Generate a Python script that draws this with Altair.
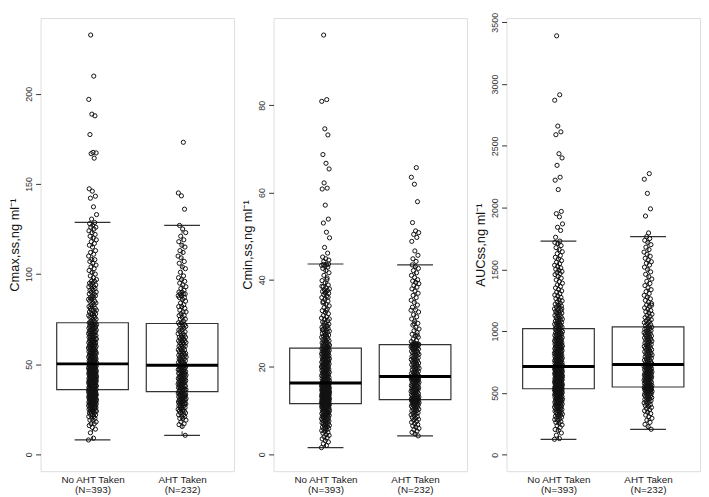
import json
import altair as alt
import pandas as pd

# ---------------- data ----------------
groups = ["No AHT Taken", "AHT Taken"]
group_n = [393, 232]
panel_titles = ["Cmax,ss,ng ml\u207b\u00b9", "Cmin,ss,ng ml\u207b\u00b9", "AUCss,ng ml\u207b\u00b9"]
y_ticks = [
    [0, 50, 100, 150, 200],
    [0, 20, 40, 60, 80],
    [0, 500, 1000, 1500, 2000, 2500, 3000, 3500],
]
y_domains = [[-9.3, 242], [-3.9, 100], [-133, 3534]]

# box statistics per panel, [No AHT, AHT]
box_q1 = [[35.9, 34.8], [11.6, 12.5], [534, 548]]
box_med = [[50.2, 49.5], [16.3, 17.8], [714, 730]]
box_q3 = [[73.0, 72.6], [24.3, 25.1], [1020, 1035]]
box_lo = [[8.1, 10.6], [1.5, 4.2], [125, 206]]
box_hi = [[128.7, 127.0], [43.6, 43.4], [1729, 1765]]

cmax_no = [
    8, 9, 12, 14, 15, 16, 17, 17, 18, 19,
    19, 20, 20, 21, 21, 22, 22, 22, 23, 23,
    23, 24, 24, 24, 24, 25, 25, 25, 25, 26,
    26, 26, 26, 26, 27, 27, 27, 27, 27, 28,
    28, 28, 28, 28, 28, 29, 29, 29, 29, 29,
    29, 30, 30, 30, 30, 30, 30, 31, 31, 31,
    31, 31, 31, 31, 32, 32, 32, 32, 32, 32,
    32, 33, 33, 33, 33, 33, 33, 33, 34, 34,
    34, 34, 34, 34, 34, 35, 35, 35, 35, 35,
    35, 35, 35, 36, 36, 36, 36, 36,
    37, 37, 37, 37, 37, 37, 38, 38, 38, 38,
    38, 38, 38, 39, 39, 39, 39, 39, 39, 39,
    40, 40, 40, 40, 40, 40, 40, 40, 41, 41,
    41, 41, 41, 41, 41, 42, 42, 42, 42, 42,
    42, 42, 43, 43, 43, 43, 43, 43, 43, 44,
    44, 44, 44, 44, 44, 44, 45, 45, 45, 45,
    45, 45, 45, 45, 46, 46, 46, 46, 46, 46,
    46, 47, 47, 47, 47, 47, 47, 47, 48, 48,
    48, 48, 48, 48, 48, 49, 49, 49, 49, 49,
    49, 49, 50, 50, 50, 50, 50, 50,
    51, 51, 51, 51, 51, 52, 52, 52, 52, 52,
    53, 53, 53, 53, 53, 54, 54, 54, 54, 54,
    55, 55, 55, 55, 56, 56, 56, 56, 56, 57,
    57, 57, 57, 58, 58, 58, 58, 59, 59, 59,
    59, 60, 60, 60, 60, 60, 61, 61, 61, 61,
    62, 62, 62, 62, 63, 63, 63, 63, 64, 64,
    64, 64, 65, 65, 65, 65, 66, 66, 66, 66,
    67, 67, 67, 67, 68, 68, 68, 68, 69, 69,
    69, 69, 70, 70, 70, 70, 71, 71, 71, 71,
    72, 72, 72, 72, 73, 73, 73, 73,
    74, 74, 75, 75, 76, 76, 76, 77, 77, 78,
    78, 78, 79, 79, 80, 80, 80, 81, 81, 82,
    82, 83, 83, 84, 84, 85, 85, 86, 86, 87,
    87, 88, 88, 89, 89, 90, 90, 91, 91, 92,
    92, 93, 93, 94, 94, 95, 95, 96, 96, 97,
    98, 99, 100, 101, 102, 103, 104, 105, 106, 107,
    108, 108, 110, 111, 112, 113, 115, 116, 117, 118,
    119, 120, 121, 122, 123, 124, 125, 126, 126, 127,
    128, 128.6,
    130.5, 133, 137.3, 142.1, 143.2, 146, 147.3, 164.3, 166.8, 167.2,
    167.5, 177.4, 187.8, 188.7, 196.9, 209.8, 232.6,
]
cmax_aht = [
    10.6, 15.5, 16.5, 17, 18, 19, 20, 20, 21, 21,
    22, 22, 23, 23, 24, 24, 24, 25, 25, 25,
    26, 26, 26, 27, 27, 27, 28, 28, 28, 28,
    29, 29, 29, 29, 30, 30, 30, 30, 31, 31,
    31, 31, 32, 32, 32, 32, 33, 33, 33, 33,
    33, 34, 34, 34, 34, 34, 35, 35,
    35.5, 36.5, 36, 36, 36, 36, 37, 37, 37, 37,
    38, 38, 38, 38, 39, 39, 39, 39, 40, 40,
    40, 40, 41, 41, 41, 41, 42, 42, 42, 42,
    43, 43, 43, 43, 44, 44, 44, 44, 45, 45,
    45, 45, 46, 46, 46, 46, 47, 47, 47, 47,
    48, 48, 48, 48, 49, 49, 49, 49,
    50, 50, 50, 51, 51, 51, 52, 52, 52, 53,
    53, 53, 54, 54, 54, 55, 55, 55, 56, 56,
    56, 57, 57, 58, 58, 58, 59, 59, 60, 60,
    60, 61, 61, 62, 62, 62, 63, 63, 63, 64,
    64, 65, 65, 65, 66, 66, 67, 67, 68, 68,
    69, 69, 70, 70, 71, 71, 72, 72,
    73, 73, 74, 75, 75, 76, 77, 77, 78, 79,
    79, 80, 81, 82, 82, 83, 84, 85, 86, 87,
    87, 88, 88, 89, 89, 89, 90, 90, 91, 92,
    93, 94, 95, 96, 97, 98, 99, 101, 103, 104,
    106, 107, 109, 110, 112, 113, 115, 116, 118, 119,
    121, 123, 125, 127,
    136, 143.4, 145, 173.1,
]
cmin_no = [
    1.5, 2.0, 2.4, 2.8, 3.1, 3.5, 3.8, 4.0, 4.3, 4.5,
    4.8, 5.0, 5.2, 5.4, 5.6, 5.8, 5.9, 6.0, 6.2, 6.3,
    6.5, 6.6, 6.8, 6.9, 7.0, 7.1, 7.2, 7.4, 7.5, 7.6,
    7.7, 7.8, 7.9, 8.0, 8.1, 8.2, 8.3, 8.4, 8.5, 8.6,
    8.7, 8.8, 8.9, 9.0, 9.0, 9.1, 9.2, 9.3, 9.4, 9.5,
    9.5, 9.6, 9.7, 9.8, 9.9, 10.0, 10.0, 10.1, 10.2, 10.3,
    10.3, 10.4, 10.5, 10.5, 10.6, 10.7, 10.7, 10.8, 10.9, 10.9,
    11.0, 11.0, 11.1, 11.1, 11.2, 11.2, 11.3, 11.3, 11.4, 11.4,
    11.5, 11.5, 11.5, 11.6, 11.6, 11.6, 11.7, 11.7, 11.7, 11.8,
    11.8, 11.8, 11.9, 11.9, 12.0, 12.0, 12.0, 12.1,
    12.2, 12.2, 12.3, 12.3, 12.4, 12.4, 12.4, 12.5, 12.5, 12.6,
    12.6, 12.7, 12.7, 12.7, 12.8, 12.8, 12.9, 12.9, 13.0, 13.0,
    13.0, 13.1, 13.1, 13.2, 13.2, 13.3, 13.3, 13.3, 13.4, 13.4,
    13.5, 13.5, 13.6, 13.6, 13.6, 13.7, 13.7, 13.8, 13.8, 13.9,
    13.9, 14.0, 14.0, 14.0, 14.1, 14.1, 14.2, 14.2, 14.3, 14.3,
    14.4, 14.4, 14.4, 14.5, 14.5, 14.6, 14.6, 14.7, 14.7, 14.8,
    14.8, 14.9, 14.9, 15.0, 15.0, 15.0, 15.1, 15.1, 15.2, 15.2,
    15.3, 15.3, 15.4, 15.4, 15.5, 15.5, 15.5, 15.6, 15.6, 15.7,
    15.7, 15.8, 15.8, 15.9, 15.9, 16.0, 16.0, 16.0, 16.1, 16.1,
    16.2, 16.2, 16.3, 16.3, 16.3, 16.4, 16.4, 16.5,
    16.6, 16.7, 16.8, 16.9, 17.0, 17.0, 17.1, 17.2, 17.3, 17.4,
    17.5, 17.6, 17.7, 17.8, 17.9, 18.0, 18.0, 18.1, 18.2, 18.3,
    18.4, 18.5, 18.6, 18.7, 18.8, 18.9, 19.0, 19.0, 19.1, 19.2,
    19.3, 19.4, 19.5, 19.6, 19.7, 19.8, 19.9, 20.0, 20.0, 20.1,
    20.2, 20.3, 20.4, 20.5, 20.6, 20.7, 20.8, 20.9, 21.0, 21.0,
    21.1, 21.2, 21.3, 21.4, 21.5, 21.6, 21.7, 21.8, 21.9, 22.0,
    22.0, 22.1, 22.2, 22.3, 22.4, 22.5, 22.6, 22.7, 22.8, 22.9,
    23.0, 23.0, 23.1, 23.2, 23.3, 23.4, 23.5, 23.6, 23.7, 23.8,
    23.9, 24.0, 24.0, 24.1, 24.2, 24.3, 24.4, 24.5, 24.6, 24.7,
    24.8, 24.9, 25.0, 25.1, 25.2, 25.3, 25.4, 25.5,
    25.6, 25.8, 26.0, 26.1, 26.3, 26.5, 26.6, 26.8, 27.0, 27.1,
    27.3, 27.5, 27.7, 27.9, 28.0, 28.2, 28.4, 28.6, 28.8, 29.0,
    29.1, 29.3, 29.6, 29.8, 30.0, 30.3, 30.6, 30.9, 31.2, 31.5,
    31.8, 32.2, 32.5, 32.9, 33.3, 33.6, 34.0, 34.4, 34.7, 35.1,
    35.5, 35.9, 36.3, 36.6, 36.9, 37.1, 37.3, 37.5, 37.7, 37.9,
    38.1, 38.4, 38.8, 39.3, 39.8, 40.4, 41.0, 41.6, 42.1, 42.6,
    42.9, 43.1, 43.3, 43.4, 43.5, 43.6, 27.4, 28.5, 29.4, 30.1,
    31.0, 33.0, 35.0, 36.0, 37.0, 38.5, 40.0,
    44.2, 44.5, 44.8, 45.2, 46.1, 47.4, 49.6, 50.9, 53.0, 53.9,
    57.1, 60.8, 61.0, 62.2, 65.4, 66.7, 68.7, 73.2, 74.6, 80.9,
    81.3, 96.1,
]
cmin_aht = [
    4.2, 4.6, 5.0, 5.3, 5.6, 5.9, 6.2, 6.5, 6.8, 7.0,
    7.3, 7.5, 7.8, 8.0, 8.2, 8.4, 8.6, 8.8, 9.0, 9.2,
    9.4, 9.5, 9.7, 9.9, 10.0, 10.2, 10.3, 10.5, 10.6, 10.8,
    10.9, 11.0, 11.1, 11.2, 11.3, 11.4, 11.5, 11.6, 11.7, 11.8,
    11.9, 12.0, 12.0, 12.1, 12.2, 12.2, 12.3, 12.3, 12.4, 12.4,
    12.5, 12.5, 12.6, 12.6, 12.7, 12.7, 12.8, 12.8,
    12.9, 13.0, 13.1, 13.2, 13.3, 13.4, 13.5, 13.6, 13.7, 13.8,
    13.9, 14.0, 14.1, 14.2, 14.3, 14.4, 14.5, 14.6, 14.7, 14.8,
    14.9, 15.0, 15.1, 15.2, 15.3, 15.4, 15.5, 15.6, 15.7, 15.8,
    15.9, 16.0, 16.1, 16.2, 16.3, 16.4, 16.5, 16.6, 16.7, 16.8,
    16.9, 17.0, 17.0, 17.1, 17.2, 17.2, 17.3, 17.4, 17.4, 17.5,
    17.5, 17.6, 17.6, 17.7, 17.7, 17.8, 17.8, 17.9,
    18.0, 18.1, 18.3, 18.4, 18.5, 18.7, 18.8, 19.0, 19.1, 19.3,
    19.4, 19.6, 19.7, 19.9, 20.0, 20.2, 20.3, 20.5, 20.6, 20.8,
    20.9, 21.1, 21.2, 21.4, 21.5, 21.7, 21.8, 22.0, 22.1, 22.3,
    22.4, 22.6, 22.7, 22.9, 23.0, 23.2, 23.3, 23.5, 23.6, 23.8,
    23.9, 24.1, 24.2, 24.3, 24.4, 24.5, 24.6, 24.7, 24.8, 24.9,
    25.0, 25.0, 25.1, 25.1, 25.2, 25.2, 25.3, 25.3,
    25.5, 25.8, 26.1, 26.4, 26.8, 27.1, 27.5, 27.9, 28.3, 28.7,
    29.1, 29.6, 30.0, 30.5, 31.0, 31.5, 32.0, 32.6, 33.1, 33.7,
    34.2, 34.8, 35.3, 35.9, 36.4, 36.9, 37.4, 37.9, 38.3, 38.7,
    39.1, 39.4, 39.7, 40.0, 40.5, 41.0, 41.6, 42.1, 42.6, 43.0,
    43.4, 27.3, 29.9, 33.0,
    44.2, 44.8, 45.6, 46.6, 48.8, 49.7, 50.4, 50.8, 51.2, 53.1,
    57.9, 61.9, 63.5, 65.7,
]
auc_no = [
    125, 131, 158, 176, 197, 204, 221, 236, 241, 255,
    262, 268, 279, 284, 291, 297, 304, 309, 311, 320,
    326, 329, 335, 341, 343, 350, 353, 358, 361, 367,
    370, 371, 378, 382, 385, 389, 392, 393, 399, 402,
    404, 408, 410, 414, 417, 419, 423, 425, 428, 431,
    434, 435, 440, 443, 444, 449, 452, 453, 458, 461,
    463, 464, 469, 471, 474, 476, 477, 482, 484, 486,
    489, 491, 492, 496, 499, 500, 503, 505, 507, 509,
    511, 513, 513, 517, 519, 521, 523, 525, 527, 528,
    529, 530, 531, 532, 533, 533, 534, 536,
    538, 541, 543, 545, 546, 549, 551, 554, 555, 557,
    560, 561, 565, 567, 568, 571, 573, 574, 577, 579,
    581, 582, 585, 587, 589, 590, 593, 595, 597, 598,
    601, 603, 604, 607, 609, 611, 612, 615, 616, 619,
    621, 622, 625, 627, 629, 630, 633, 634, 637, 639,
    640, 643, 645, 646, 648, 651, 652, 655, 657, 658,
    661, 663, 664, 667, 668, 671, 673, 674, 676, 679,
    680, 682, 685, 686, 688, 690, 692, 694, 695, 697,
    699, 700, 702, 703, 705, 706, 707, 708, 709, 710,
    711, 712, 712, 713, 713, 714, 714, 715,
    717, 720, 722, 725, 727, 731, 733, 736, 739, 741,
    744, 747, 750, 752, 755, 759, 761, 764, 766, 770,
    772, 775, 778, 781, 783, 786, 789, 792, 795, 797,
    800, 803, 806, 809, 811, 814, 818, 820, 823, 826,
    829, 832, 834, 838, 840, 843, 846, 849, 852, 855,
    858, 860, 864, 866, 869, 872, 875, 878, 881, 884,
    887, 890, 893, 896, 899, 902, 905, 909, 912, 915,
    918, 921, 925, 928, 931, 934, 938, 941, 945, 948,
    951, 955, 958, 962, 966, 969, 973, 977, 981, 985,
    989, 993, 997, 1001, 1005, 1010, 1014, 1019,
    1024, 1029, 1033, 1038, 1042, 1047, 1051, 1056, 1061, 1066,
    1071, 1076, 1081, 1087, 1092, 1098, 1104, 1110, 1116, 1122,
    1128, 1134, 1141, 1147, 1154, 1160, 1167, 1174, 1181, 1188,
    1196, 1203, 1211, 1219, 1227, 1236, 1245, 1254, 1263, 1273,
    1283, 1293, 1304, 1315, 1326, 1338, 1350, 1362, 1375, 1388,
    1401, 1415, 1429, 1443, 1458, 1466, 1474, 1483, 1492, 1502,
    1512, 1523, 1534, 1546, 1558, 1571, 1584, 1598, 1612, 1627,
    1643, 1659, 1676, 1693, 1710, 1718, 1729, 1150, 1180, 1210,
    1760, 1815, 1841, 1868, 1925, 1951, 1969, 2146, 2222, 2246,
    2342, 2402, 2436, 2590, 2613, 2660, 2869, 2913, 3390,
]
auc_aht = [
    206, 228, 246, 262, 280, 295, 308, 321, 333, 344,
    356, 365, 374, 383, 391, 398, 405, 412, 419, 425,
    431, 437, 443, 448, 453, 458, 463, 468, 472, 476,
    480, 484, 488, 492, 496, 499, 503, 506, 509, 512,
    515, 518, 521, 524, 527, 529, 532, 534, 536, 538,
    540, 542, 543, 545, 546, 547, 548,
    551, 554, 557, 561, 564, 567, 570, 574, 577, 580,
    583, 587, 590, 593, 596, 599, 603, 606, 609, 612,
    616, 619, 622, 625, 629, 632, 635, 638, 641, 645,
    648, 651, 654, 658, 661, 664, 667, 671, 674, 677,
    680, 684, 687, 690, 693, 697, 700, 703, 706, 710,
    713, 716, 719, 722, 725, 727, 729,
    733, 738, 744, 749, 754, 760, 765, 770, 776, 781,
    786, 792, 797, 802, 808, 813, 818, 824, 829, 834,
    840, 845, 850, 856, 861, 866, 872, 877, 882, 888,
    893, 898, 904, 909, 914, 920, 925, 930, 936, 941,
    946, 952, 957, 962, 968, 973, 978, 984, 989, 994,
    1000, 1005, 1010, 1016, 1021, 1027, 1033,
    1040, 1047, 1054, 1061, 1069, 1077, 1085, 1093, 1101, 1110,
    1119, 1128, 1137, 1147, 1157, 1167, 1178, 1189, 1200, 1212,
    1224, 1236, 1249, 1262, 1276, 1290, 1305, 1320, 1336, 1352,
    1369, 1386, 1404, 1422, 1441, 1460, 1480, 1500, 1518, 1535,
    1550, 1562, 1575, 1590, 1606, 1622, 1640, 1660, 1680, 1700,
    1718, 1735, 1750, 1765, 1210,
    1795, 1932, 1990, 2115, 2230, 2275,
]

panel_values = [(cmax_no, cmax_aht), (cmin_no, cmin_aht), (auc_no, auc_aht)]

# ---------------- chart ----------------
FONT = "Liberation Sans"
PW, PH = 196, 459

labels = [[groups[i], f"(N={group_n[i]})"] for i in range(2)]
x_label_expr = f"datum.value == 1 ? {json.dumps(labels[0])} : {json.dumps(labels[1])}"


def make_panel(k):
    no_vals, aht_vals = panel_values[k]
    pts = pd.DataFrame({
        "g": [1] * len(no_vals) + [2] * len(aht_vals),
        "v": list(no_vals) + list(aht_vals),
    })
    pts["i"] = range(len(pts))
    stats = pd.DataFrame({
        "g": [1, 2],
        "q1": box_q1[k], "med": box_med[k], "q3": box_q3[k],
        "lo": box_lo[k], "hi": box_hi[k],
    })

    xs = alt.Scale(domain=[0.42, 2.58], nice=False, zero=False)
    ys = alt.Scale(domain=y_domains[k], nice=False, zero=False)
    x_axis = alt.Axis(values=[1, 2], labelExpr=x_label_expr, ticks=False, domain=False,
                      grid=False, title=None, labelFont=FONT, labelFontSize=10,
                      labelColor="#222", labelPadding=3, labelLineHeight=11)
    y_axis = alt.Axis(values=y_ticks[k], title=panel_titles[k], labelAngle=270,
                      format="d",
                      labelFont=FONT, labelFontSize=9, labelColor="#333",
                      tickSize=5, tickColor="#333", domain=False, grid=False,
                      labelPadding=2, titleFont=FONT, titleFontSize=13,
                      titleFontWeight="normal", titleColor="#111", titlePadding=3,
                      labelFlush=False)

    base_stats = alt.Chart(stats).transform_calculate(
        xl="datum.g - 0.4", xr="datum.g + 0.4",
        cl="datum.g - 0.2", cr="datum.g + 0.2",
    )

    box = base_stats.mark_rect(fill="white", stroke="#333", strokeWidth=1.2).encode(
        x=alt.X("xl:Q", scale=xs, axis=x_axis), x2="xr:Q",
        y=alt.Y("q1:Q", scale=ys, axis=y_axis), y2="q3:Q",
    )
    wh_up = base_stats.mark_rule(color="#333", strokeDash=[4, 3], strokeWidth=1).encode(
        x=alt.X("g:Q", scale=xs, axis=x_axis),
        y=alt.Y("q3:Q", scale=ys, axis=y_axis), y2="hi:Q",
    )
    wh_dn = base_stats.mark_rule(color="#333", strokeDash=[4, 3], strokeWidth=1).encode(
        x=alt.X("g:Q", scale=xs, axis=x_axis),
        y=alt.Y("lo:Q", scale=ys, axis=y_axis), y2="q1:Q",
    )
    cap_hi = base_stats.mark_rule(color="#333", strokeWidth=1.2).encode(
        x=alt.X("cl:Q", scale=xs, axis=x_axis), x2="cr:Q",
        y=alt.Y("hi:Q", scale=ys, axis=y_axis),
    )
    cap_lo = base_stats.mark_rule(color="#333", strokeWidth=1.2).encode(
        x=alt.X("cl:Q", scale=xs, axis=x_axis), x2="cr:Q",
        y=alt.Y("lo:Q", scale=ys, axis=y_axis),
    )
    points = alt.Chart(pts).transform_calculate(
        jx="datum.g + 0.09 * (((datum.i * 0.6180339887) % 1) - 0.5)"
    ).mark_point(shape="circle", filled=False, color="#111", strokeWidth=1,
                 size=18, opacity=1).encode(
        x=alt.X("jx:Q", scale=xs, axis=x_axis),
        y=alt.Y("v:Q", scale=ys, axis=y_axis),
    )
    median = base_stats.mark_rule(color="#000", strokeWidth=3).encode(
        x=alt.X("xl:Q", scale=xs, axis=x_axis), x2="xr:Q",
        y=alt.Y("med:Q", scale=ys, axis=y_axis),
    )
    return alt.layer(box, wh_up, wh_dn, cap_hi, cap_lo, points, median).properties(
        width=PW, height=PH
    )


chart = alt.hconcat(
    make_panel(0), make_panel(1), make_panel(2),
    spacing=40, bounds="flush",
    padding={"left": 0, "top": 0, "right": 0, "bottom": 0},
).configure_view(stroke="#333", strokeWidth=1).configure(background="white")

chart.save("out.html", embed_options={"renderer": "svg", "actions": False})
